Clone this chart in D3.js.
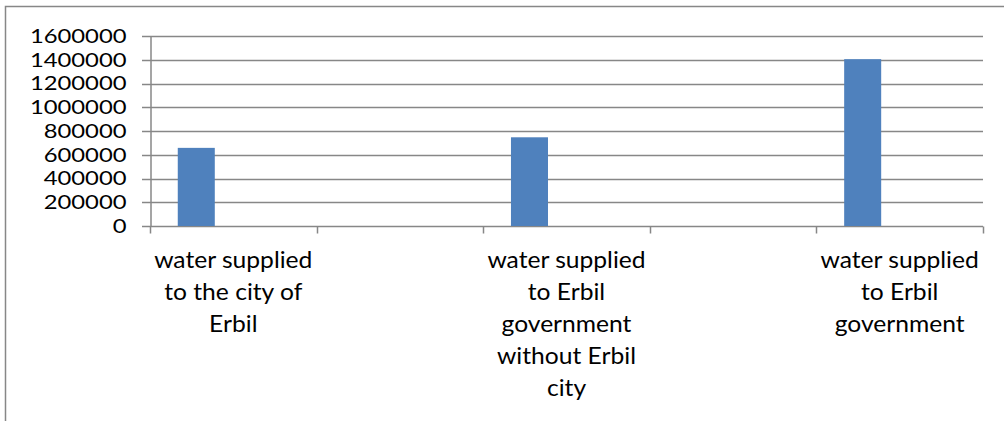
<!DOCTYPE html>
<html>
<head>
<meta charset="utf-8">
<script src="https://cdn.jsdelivr.net/npm/d3@7"></script>
<style>
  body { margin: 0; background: #fff; }
  svg { display: block; font-family: Lato, "Open Sans", sans-serif; }
</style>
</head>
<body>
<svg width="1004" height="421"></svg>
<script>
// category slots (Excel chart had blank slots between the three labelled ones)
const categories = [
  "water supplied\nto the city of\nErbil",
  "",
  "water supplied\nto Erbil\ngovernment\nwithout Erbil\ncity",
  "",
  "water supplied\nto Erbil\ngovernment"
];
const seriesNames = ["Series1", "Series2", "Series3"];
const series1 = [658000, null, 747000, null, 1405000];
const series2 = [null, null, null, null, null];
const series3 = [null, null, null, null, null];
const yTicks = [0, 200000, 400000, 600000, 800000, 1000000, 1200000, 1400000, 1600000];

const seriesValues = [series1, series2, series3];

const svg = d3.select('svg');
const width = 1004, height = 421;
const margin = {left: 150, right: 21, top: 36, bottom: 195};
const gray = "#878787";

// the reference text is a little wider than Lato, stretch glyphs to match
function stretch(sel, f) {
  sel.each(function() {
    const len = this.getComputedTextLength();
    if (len > 0) d3.select(this).attr('textLength', len * f).attr('lengthAdjust', 'spacingAndGlyphs');
  });
}

// outer chart border (only left and top edges visible)
svg.append('path')
  .attr('d', `M5.5,${height} V6.5 H${width}`)
  .attr('fill', 'none')
  .attr('stroke', gray)
  .attr('stroke-width', 1.5);

const x = d3.scaleBand()
  .domain(d3.range(categories.length))
  .range([margin.left, width - margin.right])
  .paddingInner(0).paddingOuter(0);

const xs = d3.scaleBand()
  .domain(seriesNames)
  .range([0, x.bandwidth()])
  .paddingInner(0).paddingOuter(0.75);

const y = d3.scaleLinear()
  .domain([0, 1600000])
  .range([height - margin.bottom, margin.top]);

// gridlines
svg.append('g').selectAll('line').data(yTicks).enter().append('line')
  .attr('x1', margin.left - 8)
  .attr('x2', width - margin.right)
  .attr('y1', d => Math.round(y(d)) + 0.5)
  .attr('y2', d => Math.round(y(d)) + 0.5)
  .attr('stroke', gray)
  .attr('stroke-width', 1.5);

// bars
const g = svg.append('g');
seriesValues.forEach((vals, si) => {
  g.selectAll('.bar' + si)
    .data(vals.map((v, i) => ({i: i, v: v})).filter(d => d.v != null))
    .enter().append('rect')
    .attr('x', d => x(d.i) + xs(seriesNames[si]))
    .attr('width', xs.bandwidth())
    .attr('y', d => y(d.v))
    .attr('height', d => y(0) - y(d.v))
    .attr('fill', '#4F81BD');
});

// y axis
const yAxis = svg.append('g')
  .attr('transform', `translate(${margin.left + 0.5},0)`)
  .call(d3.axisLeft(y).tickValues(yTicks).tickFormat(d3.format('d')).tickSize(0).tickPadding(24));
yAxis.select('.domain').attr('stroke', gray).attr('stroke-width', 1.5);
yAxis.selectAll('text')
  .attr('font-family', 'Lato, sans-serif')
  .attr('font-size', 20)
  .attr('fill', '#000')
  .call(stretch, 1.19);

// x axis
const xAxis = svg.append('g')
  .attr('transform', `translate(0,${Math.round(y(0)) + 0.5})`)
  .call(d3.axisBottom(x).tickFormat('').tickSize(0));
xAxis.select('.domain').remove();

// category boundary tick marks
const bounds = d3.range(categories.length + 1).map(i => i < categories.length ? x(i) : x(i - 1) + x.bandwidth());
xAxis.selectAll('.bound').data(bounds).enter().append('line')
  .attr('x1', d => Math.round(d) + 0.5)
  .attr('x2', d => Math.round(d) + 0.5)
  .attr('y1', 0).attr('y2', 7)
  .attr('stroke', gray)
  .attr('stroke-width', 1.5);

// category labels
const labels = svg.append('g').selectAll('text').data(categories).enter().append('text')
  .attr('x', (d, i) => x(i) + x.bandwidth() / 2)
  .attr('y', 268)
  .attr('text-anchor', 'middle')
  .attr('font-size', 23)
  .attr('fill', '#000');
labels.each(function(d) {
  const t = d3.select(this);
  d.split('\n').filter(s => s.length).forEach((line, k) => {
    t.append('tspan')
      .attr('x', t.attr('x'))
      .attr('dy', k === 0 ? 0 : 32)
      .text(line);
  });
});
labels.selectAll('tspan').call(stretch, 1.07);
</script>
</body>
</html>
